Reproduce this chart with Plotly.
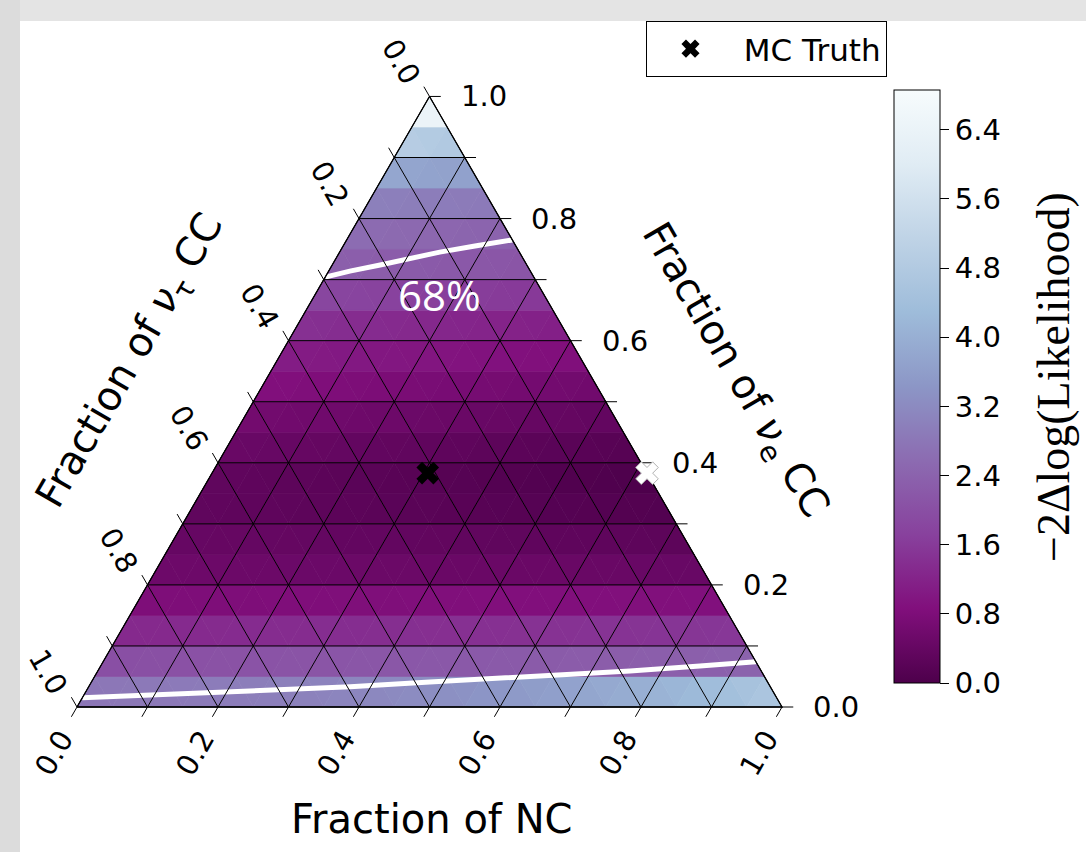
import math
import plotly.graph_objects as go
import plotly.colors as pc

# ---------------- data ----------------
N_DIV = 20  # heat-map resolution (rows of the triangular lattice)

# -2 delta log(L) for each small triangle, one list per row (bottom row first),
# ordered left -> right (up, down, up, down, ...)
ROW_00 = [2.80, 2.82, 2.83, 2.85, 2.86, 2.88, 2.90, 2.92, 2.94, 2.96, 2.98, 3.00, 3.03, 3.06,
          3.09, 3.12, 3.15, 3.19, 3.23, 3.27, 3.31, 3.36, 3.41, 3.46, 3.52, 3.58, 3.64, 3.71,
          3.78, 3.85, 3.92, 4.00, 4.08, 4.16, 4.25, 4.34, 4.43, 4.52, 4.62]
ROW_01 = [2.00, 2.01, 2.02, 2.03, 2.04, 2.05, 2.06, 2.07, 2.08, 2.09, 2.10, 2.11, 2.12, 2.13,
          2.14, 2.15, 2.16, 2.17, 2.18, 2.19, 2.20, 2.21, 2.22, 2.23, 2.24, 2.25, 2.26, 2.27,
          2.28, 2.29, 2.30, 2.31, 2.32, 2.33, 2.35, 2.37, 2.40]
ROW_02 = [1.30, 1.31, 1.31, 1.32, 1.32, 1.33, 1.34, 1.34, 1.35, 1.36, 1.36, 1.37, 1.37, 1.38,
          1.39, 1.39, 1.40, 1.41, 1.41, 1.42, 1.43, 1.43, 1.44, 1.45, 1.45, 1.46, 1.47, 1.48,
          1.48, 1.49, 1.50, 1.51, 1.52, 1.53, 1.55]
ROW_03 = [0.80, 0.80, 0.80, 0.81, 0.81, 0.81, 0.81, 0.82, 0.82, 0.82, 0.82, 0.83, 0.83, 0.83,
          0.83, 0.84, 0.84, 0.84, 0.84, 0.85, 0.85, 0.85, 0.85, 0.86, 0.86, 0.86, 0.86, 0.87,
          0.87, 0.87, 0.87, 0.88, 0.88]
ROW_04 = [0.52, 0.52, 0.52, 0.51, 0.51, 0.51, 0.51, 0.50, 0.50, 0.50, 0.50, 0.49, 0.49, 0.49,
          0.49, 0.48, 0.48, 0.48, 0.48, 0.47, 0.47, 0.47, 0.47, 0.46, 0.46, 0.46, 0.46, 0.45,
          0.45, 0.45, 0.45]
ROW_05 = [0.42, 0.42, 0.41, 0.41, 0.40, 0.40, 0.39, 0.38, 0.38, 0.37, 0.37, 0.36, 0.36, 0.35,
          0.34, 0.34, 0.33, 0.33, 0.32, 0.32, 0.31, 0.30, 0.30, 0.29, 0.29, 0.28, 0.28, 0.27,
          0.26]
ROW_06 = [0.32, 0.31, 0.30, 0.30, 0.29, 0.28, 0.27, 0.26, 0.25, 0.24, 0.23, 0.22, 0.21, 0.21,
          0.20, 0.19, 0.18, 0.17, 0.16, 0.15, 0.14, 0.14, 0.13, 0.12, 0.11, 0.11, 0.10]
ROW_07 = [0.32, 0.31, 0.30, 0.28, 0.27, 0.26, 0.25, 0.23, 0.22, 0.21, 0.20, 0.18, 0.17, 0.16,
          0.15, 0.13, 0.12, 0.11, 0.10, 0.08, 0.07, 0.06, 0.05, 0.03, 0.02]
ROW_08 = [0.46, 0.45, 0.43, 0.42, 0.41, 0.39, 0.38, 0.37, 0.35, 0.34, 0.33, 0.31, 0.30, 0.29,
          0.27, 0.26, 0.25, 0.23, 0.22, 0.21, 0.19, 0.18, 0.16]
ROW_09 = [0.62, 0.61, 0.60, 0.58, 0.57, 0.56, 0.54, 0.53, 0.52, 0.50, 0.49, 0.48, 0.47, 0.45,
          0.44, 0.43, 0.41, 0.40, 0.39, 0.37, 0.36]
ROW_10 = [0.86, 0.85, 0.83, 0.82, 0.80, 0.79, 0.77, 0.76, 0.74, 0.73, 0.71, 0.70, 0.68, 0.67,
          0.65, 0.64, 0.63, 0.61, 0.60]
ROW_11 = [1.08, 1.06, 1.05, 1.03, 1.02, 1.00, 0.99, 0.97, 0.96, 0.94, 0.93, 0.91, 0.90, 0.88,
          0.87, 0.85, 0.84]
ROW_12 = [1.42, 1.40, 1.38, 1.36, 1.34, 1.32, 1.30, 1.28, 1.26, 1.24, 1.22, 1.20, 1.18, 1.16,
          1.14]
ROW_13 = [1.82, 1.80, 1.78, 1.76, 1.74, 1.72, 1.70, 1.68, 1.66, 1.64, 1.62, 1.60, 1.58]
ROW_14 = [2.32, 2.30, 2.28, 2.26, 2.24, 2.22, 2.20, 2.18, 2.16, 2.14, 2.12]
ROW_15 = [2.60, 2.58, 2.55, 2.53, 2.50, 2.48, 2.45, 2.43, 2.40]
ROW_16 = [3.00, 2.98, 2.96, 2.94, 2.92, 2.90, 2.88]
ROW_17 = [3.80, 3.76, 3.73, 3.70, 3.67]
ROW_18 = [4.90, 4.84, 4.78]
ROW_19 = [6.40]
ROWS = [ROW_00, ROW_01, ROW_02, ROW_03, ROW_04, ROW_05, ROW_06, ROW_07, ROW_08, ROW_09,
        ROW_10, ROW_11, ROW_12, ROW_13, ROW_14, ROW_15, ROW_16, ROW_17, ROW_18, ROW_19]

GRID_VALUES = [0.0, 0.1, 0.2, 0.3, 0.4, 0.5, 0.6, 0.7, 0.8, 0.9, 1.0]
LABEL_VALUES = [0.0, 0.2, 0.4, 0.6, 0.8, 1.0]
CBAR_TICKS = [0.0, 0.8, 1.6, 2.4, 3.2, 4.0, 4.8, 5.6, 6.4]
CBAR_MAX = 6.86

# 68% contour: (nu_e CC fraction, NC fraction)
CONT_UP_A = [0.704, 0.714, 0.724, 0.735, 0.745, 0.755, 0.765]
CONT_UP_C = [0.000, 0.030, 0.068, 0.105, 0.142, 0.187, 0.235]
CONT_LO_A = [0.015, 0.020, 0.026, 0.033, 0.041, 0.049, 0.059, 0.067, 0.074]
CONT_LO_C = [0.000, 0.094, 0.232, 0.371, 0.480, 0.618, 0.755, 0.850, 0.926]

MC_TRUTH_A, MC_TRUTH_C = [0.383], [0.306]
BEST_FIT_A, BEST_FIT_C = [0.383], [0.617]

# ---------------- helpers ----------------
H = math.sqrt(3) / 2
PX = 1 / 705.0           # data units per pixel
W, HT = 1086, 852
X0, Y0 = 77, 707         # pixel of the (nu_tau = 1) corner


def xy(a, c):
    return c + a / 2.0, a * H


def paper(px, py):
    return px / W, 1 - py / HT


FONT = "DejaVu Sans"
TICK_FS = 29
scale = pc.get_colorscale("BuPu_r")

fig = go.Figure()

# heat-map triangles
cx_all, cy_all, v_all = [], [], []
for k, row in enumerate(ROWS):
    assert len(row) == 2 * (N_DIV - k) - 1, (k, len(row))
    for t, v in enumerate(row):
        if t % 2 == 0:
            j = t // 2
            verts = [(k, j), (k, j + 1), (k + 1, j)]
        else:
            j = (t - 1) // 2
            verts = [(k, j + 1), (k + 1, j), (k + 1, j + 1)]
        pts = [xy(p[0] / N_DIV, p[1] / N_DIV) for p in verts]
        xs = [p[0] for p in pts] + [pts[0][0]]
        ys = [p[1] for p in pts] + [pts[0][1]]
        col = pc.sample_colorscale(scale, [min(v / CBAR_MAX, 1.0)])[0]
        fig.add_trace(go.Scatter(x=xs, y=ys, mode="lines", fill="toself", fillcolor=col,
                                 line=dict(color=col, width=0.7), hoverinfo="skip",
                                 showlegend=False))
        cx_all.append(sum(xs[:3]) / 3)
        cy_all.append(sum(ys[:3]) / 3)
        v_all.append(v)

# colour bar carrier
cbar = dict(x=894 / W, xanchor="left", y=1 - 90 / HT, yanchor="top",
            len=593 / HT, lenmode="fraction", thickness=46,
            thicknessmode="pixels", xpad=0, ypad=0,
            outlinecolor="black", outlinewidth=1,
            tickvals=CBAR_TICKS, tickformat=".1f", ticks="outside",
            ticklen=9, tickcolor="black", tickwidth=1,
            tickfont=dict(family=FONT, size=TICK_FS, color="black"))

fig.add_trace(go.Scatter(
    x=cx_all, y=cy_all, mode="markers", hoverinfo="skip", showlegend=False,
    marker=dict(color=v_all, colorscale="BuPu_r", cmin=0, cmax=CBAR_MAX, size=2, opacity=0,
                showscale=True, colorbar=cbar)))

# 68% contours
for A, C in ((CONT_UP_A, CONT_UP_C), (CONT_LO_A, CONT_LO_C)):
    pts = [xy(a, c) for a, c in zip(A, C)]
    fig.add_trace(go.Scatter(x=[p[0] for p in pts], y=[p[1] for p in pts], mode="lines",
                             line=dict(color="white", width=5), hoverinfo="skip",
                             showlegend=False))

# grid lines + ticks (ticks are the grid lines extended outside the triangle)
D = 0.016
gx, gy = [], []


def seg(p, q):
    gx.extend([p[0], q[0], None])
    gy.extend([p[1], q[1], None])


for g in GRID_VALUES:
    seg(xy(g, 0.0), xy(g, 1 - g + D))                  # nu_e = g, tick on the right
    seg(xy(1 - g + D, -D), xy(0.0, 1 - g))             # nu_tau = g, tick on the left
    seg(xy(-D, g), xy(1 - g, g))                       # NC = g, tick at the bottom
fig.add_trace(go.Scatter(x=gx, y=gy, mode="lines", line=dict(color="black", width=1),
                         hoverinfo="skip", showlegend=False, connectgaps=False))

# outer border
bp = [xy(0, 0), xy(0, 1), xy(1, 0), xy(0, 0)]
fig.add_trace(go.Scatter(x=[p[0] for p in bp], y=[p[1] for p in bp], mode="lines",
                         line=dict(color="black", width=1.3), hoverinfo="skip",
                         showlegend=False))

# markers
bx, by = xy(BEST_FIT_A[0], BEST_FIT_C[0])
fig.add_trace(go.Scatter(x=[bx], y=[by], mode="markers", showlegend=False, cliponaxis=False,
                         marker=dict(symbol="x", size=20, color="white",
                                     line=dict(color="#b0b0b0", width=1))))
mx, my = xy(MC_TRUTH_A[0], MC_TRUTH_C[0])
fig.add_trace(go.Scatter(x=[mx], y=[my], mode="markers", name="\u00a0MC Truth",
                         marker=dict(symbol="x", size=20, color="black")))

# tick labels
ann = []
for v in LABEL_VALUES:
    ex, ey = xy(v, 1 - v)  # right edge, nu_e
    ann.append(dict(x=ex + 29 * PX, y=ey, text=f"{v:.1f}", xanchor="left", yanchor="middle",
                    showarrow=False, font=dict(family=FONT, size=TICK_FS, color="black")))
    ex, ey = xy(1 - v, 0.0)  # left edge, nu_tau
    ann.append(dict(x=ex - 29 * PX, y=ey + 35 * PX, text=f"{v:.1f}", textangle=60,
                    xanchor="center", yanchor="middle", showarrow=False,
                    font=dict(family=FONT, size=TICK_FS, color="black")))
    ex, ey = xy(0.0, v)  # bottom edge, NC
    ann.append(dict(x=ex - 23 * PX, y=ey - 46 * PX, text=f"{v:.1f}", textangle=-60,
                    xanchor="center", yanchor="middle", showarrow=False,
                    font=dict(family=FONT, size=TICK_FS, color="black")))
for a in ann:
    a["xref"] = "x"
    a["yref"] = "y"


def paper_text(px, py, text, size, family=FONT, angle=0, color="black"):
    x, y = paper(px, py)
    return dict(xref="paper", yref="paper", x=x, y=y, text=text, textangle=angle,
                xanchor="center", yanchor="middle", showarrow=False,
                font=dict(family=family, size=size, color=color))


ann.append(paper_text(432, 819, "Fraction of NC", 40))
ann.append(paper_text(131, 362, "Fraction of <i>ν</i><sub>τ</sub> CC", 40, angle=-60))
ann.append(paper_text(734, 371, "Fraction of <i>ν</i><sub>e</sub> CC", 40, angle=60))
ann.append(paper_text(439, 294, "68%", 42, family="Open Sans", color="white"))
ann.append(paper_text(1053, 377, "−2Δlog(Likelihood)", 46, family="Liberation Serif",
                      angle=-90))

shapes = [
    dict(type="rect", xref="paper", yref="paper", x0=0, x1=1, y0=1 - 21 / HT, y1=1,
         fillcolor="#e4e4e4", line=dict(width=0), layer="below"),
    dict(type="rect", xref="paper", yref="paper", x0=0, x1=20 / W, y0=0, y1=1,
         fillcolor="#dcdcdc", line=dict(width=0), layer="below"),
]

fig.update_layout(
    width=W, height=HT, margin=dict(l=0, r=0, t=0, b=0),
    paper_bgcolor="white", plot_bgcolor="rgba(0,0,0,0)",
    xaxis=dict(range=[-X0 * PX, (W - X0) * PX], visible=False, fixedrange=True),
    yaxis=dict(range=[-(HT - Y0) * PX, Y0 * PX], visible=False, fixedrange=True),
    showlegend=True,
    legend=dict(x=646 / W, y=1 - 21 / HT, xanchor="left", yanchor="top",
                bordercolor="black", borderwidth=1, bgcolor="white", itemwidth=77,
                font=dict(family=FONT, size=31, color="black")),
    annotations=ann, shapes=shapes,
)

fig.write_html("out.html")
